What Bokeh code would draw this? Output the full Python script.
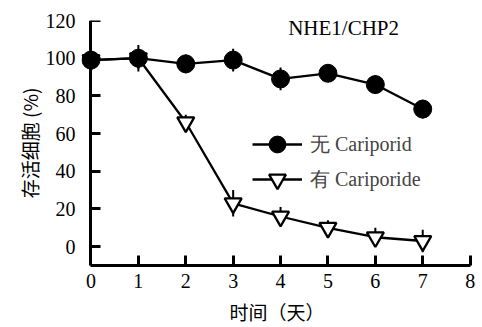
from bokeh.plotting import figure
from bokeh.models import ColumnDataSource, Range1d, Legend, LegendItem, Label, FixedTicker, LinearAxis
from bokeh.embed import file_html
from bokeh.resources import INLINE

days = [0, 1, 2, 3, 4, 5, 6, 7]
without_vals = [99, 100, 97, 99, 89, 92, 86, 73]
without_err = [3, 7, 5, 6, 6, 3, 5, 5]
with_vals = [99, 100, 66, 23, 16, 10, 5, 3]
with_err = [3, 3, 4, 7, 5, 4, 5, 6]
x_ticks = [0, 1, 2, 3, 4, 5, 6, 7, 8]
y_ticks = [0, 20, 40, 60, 80, 100, 120]
title_text = "NHE1/CHP2"
label_without = "无 Cariporid"
label_with = "有 Cariporide"
x_label = "时间（天）"
y_label = "存活细胞 (%)"

SERIF = "Liberation Serif"
CJK = "Noto Sans CJK SC"

def src(vals, err):
    return ColumnDataSource(dict(
        x=days, y=vals,
        lo=[v - e for v, e in zip(vals, err)],
        hi=[v + e for v, e in zip(vals, err)],
    ))

s_without = src(without_vals, without_err)
s_with = src(with_vals, with_err)

p = figure(width=482, height=327, output_backend="svg", toolbar_location=None,
           x_range=Range1d(-0.2, 8.05), y_range=Range1d(-10, 120),
           min_border_left=81, min_border_right=10, min_border_top=20, min_border_bottom=60)
p.outline_line_color = None
p.grid.visible = False
p.background_fill_color = "white"
p.border_fill_color = "white"

# with cariporide (under)
p.segment(x0="x", y0="lo", x1="x", y1="hi", source=s_with, line_color="black", line_width=2)
l_with = p.line("x", "y", source=s_with, line_color="black", line_width=2.3)
m_with = p.scatter("x", "y", source=s_with, marker="inverted_triangle", size=17,
                   fill_color="white", line_color="black", line_width=2.3)

# without cariporide
p.segment(x0="x", y0="lo", x1="x", y1="hi", source=s_without, line_color="black", line_width=2)
l_without = p.line("x", "y", source=s_without, line_color="black", line_width=2.3)
m_without = p.scatter("x", "y", source=s_without, marker="circle", size=18,
                      fill_color="black", line_color="black", line_width=1)

def style(ax):
    ax.axis_line_width = 3
    ax.major_tick_line_width = 3
    ax.major_tick_in = 10
    ax.major_tick_out = 0
    ax.minor_tick_line_color = None
    ax.major_label_text_font = SERIF
    ax.major_label_text_font_size = "20px"
    ax.major_label_text_color = "black"
    ax.axis_label_text_font = CJK
    ax.axis_label_text_font_size = "19px"
    ax.axis_label_text_font_style = "normal"
    ax.axis_label_text_color = "black"

xa = p.xaxis[0]
style(xa)
xa.ticker = FixedTicker(ticks=x_ticks)
xa.bounds = (0, 8)
xa.axis_label = x_label
xa.major_label_standoff = 8
xa.axis_label_standoff = 7

# labels-only y axis at the frame edge
ya = p.yaxis[0]
style(ya)
ya.ticker = FixedTicker(ticks=y_ticks)
ya.axis_line_color = None
ya.major_tick_line_color = None
ya.axis_label = y_label
ya.major_label_standoff = 6
ya.axis_label_standoff = 0

# line-and-ticks y axis at x = 0
ya2 = LinearAxis(ticker=FixedTicker(ticks=y_ticks), fixed_location=0, bounds=(-10, 120))
style(ya2)
ya2.major_label_text_font_size = "0px"
ya2.major_label_text_color = None
p.add_layout(ya2, "left")

p.add_layout(Label(x=5.33, y=116, text=title_text, text_font=SERIF, text_font_size="21px",
                   text_align="center", text_baseline="middle", text_color="black"))

legend_kw = dict(border_line_color=None, background_fill_alpha=0, padding=0, margin=0,
                 glyph_width=50, glyph_height=42, label_height=42, label_standoff=8,
                 label_text_font=SERIF, label_text_font_size="20px")
leg1 = Legend(items=[LegendItem(label=label_without, renderers=[l_without, m_without])],
              location=(171, 100), **legend_kw)
leg2 = Legend(items=[LegendItem(label=label_with, renderers=[l_with, m_with])],
              location=(171, 65), **legend_kw)
p.add_layout(leg1)
p.add_layout(leg2)

open("out.html", "w").write(file_html(p, INLINE))
